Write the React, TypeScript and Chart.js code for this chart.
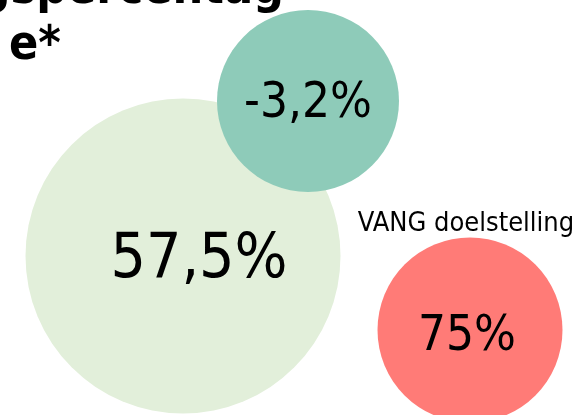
import React, { useEffect, useRef } from "react";
import { Chart, registerables } from "chart.js";

Chart.register(...registerables);

// Bubble data
const labels = ["57,5%", "-3,2%", "75%"];
const values = [57.5, -3.2, 75];
const posX = [183, 308, 470];
const posY = [256, 101, 330];
const bubbleRadius = [157.5, 91, 92.5];
const colors = ["#E2EFDA", "#8ECBB9", "#FF7B77"];
const labelSizes = [62, 49, 49];
const annotationText = ["", "", "VANG doelstelling"];
const titleLines = ["Afvalscheidingspercentag", "e*"];

const labelOffsetX = [16, 0, -3];
const labelOffsetY = [5, 3, 7];

const labelPlugin = {
  id: "bubbleLabels",
  afterDatasetsDraw(chart: any) {
    const ctx = chart.ctx;
    ctx.save();
    chart.data.datasets.forEach((ds: any, i: number) => {
      const meta = chart.getDatasetMeta(i);
      meta.data.forEach((el: any, j: number) => {
        const r = ds.data[j].r;
        ctx.fillStyle = "#000";
        ctx.textAlign = "center";
        ctx.textBaseline = "middle";
        ctx.font = `${labelSizes[i]}px "DejaVu Sans Condensed", "DejaVu Sans", sans-serif`;
        ctx.fillText(labels[i], el.x + labelOffsetX[i], el.y + labelOffsetY[i]);
        if (annotationText[i]) {
          ctx.font = `27px "DejaVu Sans Condensed", "DejaVu Sans", sans-serif`;
          ctx.textBaseline = "alphabetic";
          ctx.fillText(annotationText[i], el.x - 4, el.y - r - 7);
        }
      });
    });
    // title
    ctx.font = `bold 48px "DejaVu Sans Condensed", "DejaVu Sans", sans-serif`;
    ctx.textBaseline = "alphabetic";
    ctx.textAlign = "right";
    ctx.fillText(titleLines[0], 284, 3);
    ctx.textAlign = "left";
    ctx.fillText(titleLines[1], 9, 59);
    ctx.restore();
  },
};

export default function App() {
  const ref = useRef<HTMLCanvasElement>(null);
  useEffect(() => {
    document.body.style.margin = "0";
    const canvas = ref.current!;
    const chart = new Chart(canvas, {
      type: "bubble",
      data: {
        datasets: values.map((v, i) => ({
          label: labels[i],
          data: [{ x: posX[i], y: posY[i], r: bubbleRadius[i], v }],
          backgroundColor: colors[i],
          borderWidth: 0,
          hoverRadius: 0,
          order: values.length - i,
          clip: false as any,
        })),
      },
      options: {
        animation: false,
        responsive: false,
        events: [],
        layout: { padding: 0, autoPadding: false },
        plugins: { legend: { display: false }, tooltip: { enabled: false } },
        scales: {
          x: { type: "linear", min: 0, max: 578, display: false },
          y: { type: "linear", min: 0, max: 415, reverse: true, display: false },
        },
      },
      plugins: [labelPlugin],
    });
    return () => chart.destroy();
  }, []);
  return (
    <div style={{ width: 578, height: 415 }}>
      <canvas ref={ref} width={578} height={415} style={{ display: "block" }} />
    </div>
  );
}
